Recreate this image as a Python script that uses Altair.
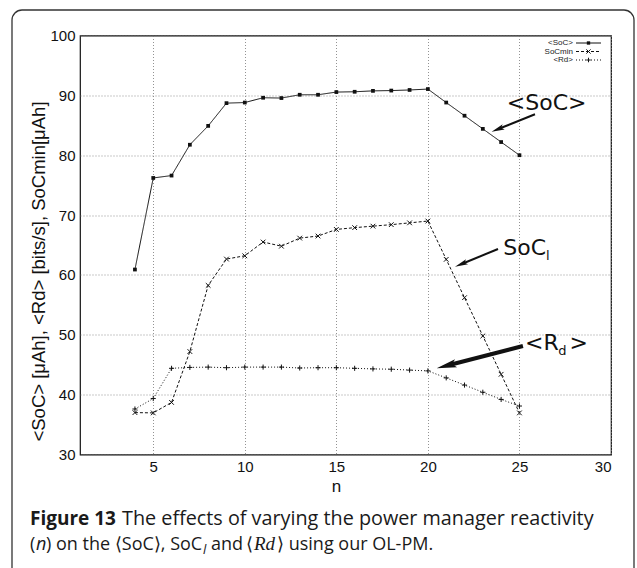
import math
import altair as alt
import pandas as pd

# ---------------- data ----------------
n_values = [4, 5, 6, 7, 8, 9, 10, 11, 12, 13, 14, 15, 16, 17, 18, 19, 20, 21, 22, 23, 24, 25]
soc_avg = [60.9, 76.2, 76.6, 81.75, 84.9, 88.7, 88.8, 89.6, 89.55, 90.1, 90.1, 90.55, 90.6,
           90.75, 90.8, 90.9, 91.05, 88.8, 86.6, 84.4, 82.2, 80.0]
soc_min = [37.0, 36.95, 38.7, 47.2, 58.25, 62.65, 63.2, 65.5, 64.8, 66.15, 66.5, 67.6, 67.9,
           68.15, 68.4, 68.7, 69.0, 62.6, 56.2, 49.8, 43.4, 36.95]
rd_avg = [37.6, 39.35, 44.4, 44.55, 44.6, 44.5, 44.6, 44.6, 44.6, 44.45, 44.5, 44.5, 44.4,
          44.3, 44.25, 44.1, 43.97, 42.8, 41.6, 40.4, 39.2, 38.1]
series_names = ["<SoC>", "SoCmin", "<Rd>"]
x_ticks = [5, 10, 15, 20, 25, 30]
y_ticks = [30, 40, 50, 60, 70, 80, 90, 100]
x_title = "n"
y_title = "<SoC> [\u03bcAh], <Rd> [bits/s], SoCmin[\u03bcAh]"

# annotation arrows (data coordinates): tail x, tail y, head x, head y
arrow_tail_x = [25.85, 23.83, 25.19]
arrow_tail_y = [86.84, 64.33, 48.13]
arrow_head_x = [23.48, 21.48, 20.48]
arrow_head_y = [83.93, 61.38, 44.40]

# ---------------- layout ----------------
W, H = 531, 419
XD = (1, 30)
YD = (30, 100)
FONT = "Liberation Sans"


def to_px(x, y):
    return ((x - XD[0]) / (XD[1] - XD[0]) * W, (YD[1] - y) / (YD[1] - YD[0]) * H)


def to_data(px, py):
    return (XD[0] + px / W * (XD[1] - XD[0]), YD[1] - py / H * (YD[1] - YD[0]))


xs = alt.Scale(domain=list(XD), nice=False, zero=False)
ys = alt.Scale(domain=list(YD), nice=False, zero=False)

series_values = [soc_avg, soc_min, rd_avg]
dashes = [[1, 0], [3, 2], [1, 2]]
shapes = ["square", "M-1,-1L1,1M-1,1L1,-1", "M-1,0L1,0M0,-1L0,1"]
filled = [True, False, False]
msize = [14, 22, 26]

layers = []

# outer rounded frame of the figure
frame = alt.Chart(alt.Data(values=[{}])).mark_rect(
    fillOpacity=0, fill="white", stroke="#333333", strokeWidth=1.3, cornerRadius=10, clip=False
).encode(
    x=alt.value(-68), x2=alt.value(554), y=alt.value(-25.5), y2=alt.value(560)
)
layers.append(frame)

for i, name in enumerate(series_names):
    df = pd.DataFrame({"n": n_values, "v": series_values[i]})
    base = alt.Chart(df).encode(
        x=alt.X("n:Q", scale=xs,
                axis=alt.Axis(values=x_ticks, title=x_title, titleX=256, titleY=32,
                              titleBaseline="middle", titleAlign="center")),
        y=alt.Y("v:Q", scale=ys,
                axis=alt.Axis(values=y_ticks, title=y_title, titleX=-42, titleY=235.5,
                              titleAngle=270, titleBaseline="middle", titleAlign="center",
                              titleFontSize=18.5)),
    )
    layers.append(base.mark_line(color="#111111", strokeWidth=1, strokeDash=dashes[i]))
    layers.append(base.mark_point(shape=shapes[i], filled=filled[i], size=msize[i],
                                  color="#111111", strokeWidth=1, opacity=1))

# legend (top right, inside)
leg_rows_py = [7.5, 16.0, 24.5]
leg_text_x, _ = to_data(493, 0)
leg_x1, _ = to_data(496, 0)
leg_x2, _ = to_data(521, 0)
leg_xm, _ = to_data(508.5, 0)
for i, name in enumerate(series_names):
    _, ly = to_data(0, leg_rows_py[i])
    ldf = pd.DataFrame({"label": [name], "tx": [leg_text_x], "x1": [leg_x1], "x2": [leg_x2],
                        "xm": [leg_xm], "y": [ly]})
    lb = alt.Chart(ldf)
    layers.append(lb.mark_text(align="right", baseline="middle", font=FONT, fontSize=8,
                               color="#222222").encode(
        x=alt.X("tx:Q", scale=xs), y=alt.Y("y:Q", scale=ys), text="label:N"))
    layers.append(lb.mark_rule(color="#111111", strokeWidth=1, strokeDash=dashes[i]).encode(
        x=alt.X("x1:Q", scale=xs), x2="x2:Q", y=alt.Y("y:Q", scale=ys)))
    layers.append(lb.mark_point(shape=shapes[i], filled=filled[i], size=msize[i] * 0.8,
                                color="#111111", strokeWidth=1, opacity=1).encode(
        x=alt.X("xm:Q", scale=xs), y=alt.Y("y:Q", scale=ys)))

# arrows
arrow_width = [2.0, 2.0, 4.0]
head_len = [13, 13, 20]
for i in range(3):
    tx, ty = to_px(arrow_tail_x[i], arrow_tail_y[i])
    hx, hy = to_px(arrow_head_x[i], arrow_head_y[i])
    dx, dy = hx - tx, hy - ty
    L = math.hypot(dx, dy)
    ux, uy = dx / L, dy / L
    r = head_len[i] / 2
    cx, cy = hx - r * ux, hy - r * uy
    ex, ey = hx - 1.4 * r * ux, hy - 1.4 * r * uy
    cdx, cdy = to_data(cx, cy)
    edx, edy = to_data(ex, ey)
    ang = math.degrees(math.atan2(ux, -uy)) % 360
    adf = pd.DataFrame({"x": [arrow_tail_x[i]], "y": [arrow_tail_y[i]], "x2": [edx], "y2": [edy],
                        "cx": [cdx], "cy": [cdy]})
    ac = alt.Chart(adf)
    layers.append(ac.mark_rule(color="#111111", strokeWidth=arrow_width[i], strokeCap="butt").encode(
        x=alt.X("x:Q", scale=xs), y=alt.Y("y:Q", scale=ys), x2="x2:Q", y2="y2:Q"))
    layers.append(ac.mark_point(shape="M0,-1L0.42,1L0,0.6L-0.42,1Z", filled=True, size=head_len[i] ** 2,
                                angle=ang, color="#111111", opacity=1).encode(
        x=alt.X("cx:Q", scale=xs), y=alt.Y("cy:Q", scale=ys)))

# annotation labels (left-aligned, alphabetic baseline), positions in data units
ann_text = ["<SoC>", "SoC", "l", "<R", "d", ">"]
ann_x = [24.31, 24.12, 26.45, 25.30, 27.12, 27.74]
ann_y = [87.55, 63.33, 62.50, 47.46, 46.55, 47.46]
ann_size = [22, 22, 13, 22, 13, 22]
for i in range(len(ann_text)):
    tdf = pd.DataFrame({"x": [ann_x[i]], "y": [ann_y[i]], "t": [ann_text[i]]})
    layers.append(alt.Chart(tdf).mark_text(align="left", baseline="alphabetic", font="DejaVu Sans",
                                           fontSize=ann_size[i], color="#111111").encode(
        x=alt.X("x:Q", scale=xs), y=alt.Y("y:Q", scale=ys), text="t:N"))

# caption
CF = "Open Sans"
cap_parts = [
    ("Figure 13", 30, 525, CF, "bold", "normal", 19),
    ("The effects of varying the power manager reactivity", 122, 525, CF, "normal", "normal", 19.8),
    ("(", 30, 550, CF, "normal", "normal", 18),
    ("n", 36, 550, CF, "normal", "italic", 18),
    (") on the \u27e8SoC\u27e9, SoC", 46, 550, CF, "normal", "normal", 18),
    ("l", 203, 554, CF, "normal", "italic", 13),
    ("and", 211, 550, CF, "normal", "normal", 18),
    ("\u27e8", 246, 550, CF, "normal", "normal", 18),
    ("Rd", 254, 550, "Liberation Serif", "normal", "italic", 19),
    ("\u27e9 using our OL-PM.", 277, 550, CF, "normal", "normal", 18),
]
for t, px, py, f, fw, fs, sz in cap_parts:
    layers.append(alt.Chart(alt.Data(values=[{"t": t}])).mark_text(
        align="left", baseline="alphabetic", font=f, fontWeight=fw, fontStyle=fs, fontSize=sz,
        color="#1a1a1a", clip=False
    ).encode(x=alt.value(px - 80), y=alt.value(py - 35.5), text="t:N"))

chart = alt.layer(*layers).properties(
    width=W, height=H,
    autosize="none",
    padding={"left": 80, "top": 35.5, "right": 26, "bottom": 113.5},
    background="white",
).configure_view(
    stroke="#111111", strokeWidth=1.2
).configure_axis(
    domain=False, ticks=False, labelPadding=5, labelFont=FONT, labelFontSize=15,
    labelColor="#111111", titleFont=FONT, titleFontSize=17, titleColor="#111111",
    titleFontWeight="normal", grid=True, gridColor="#777777", gridDash=[1, 2], gridWidth=0.8,
    gridOpacity=1
)

chart.save("out.html", embed_options={"renderer": "svg", "actions": False})
